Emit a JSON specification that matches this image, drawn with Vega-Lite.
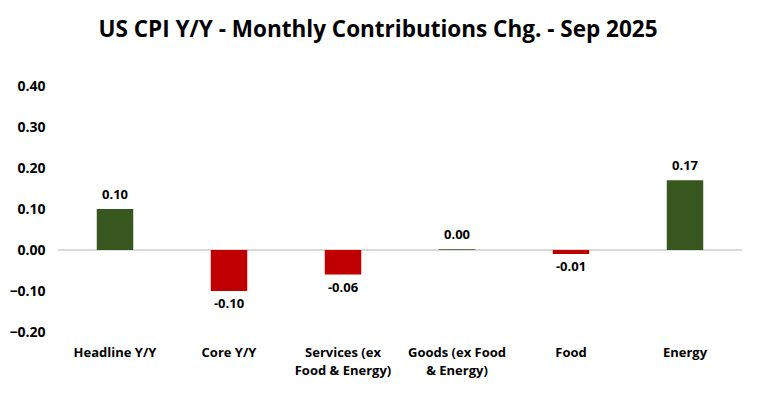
{
  "$schema": "https://vega.github.io/schema/vega-lite/v6.json",
  "autosize": {"type": "none"},
  "width": 684,
  "height": 246,
  "padding": {"left": 58, "top": 86, "right": 15, "bottom": 65},
  "background": "white",
  "config": {"view": {"stroke": null}, "font": "Open Sans"},
  "title": {
    "text": "US CPI Y/Y - Monthly Contributions Chg. - Sep 2025",
    "fontSize": 22.5,
    "fontWeight": "bold",
    "font": "Open Sans",
    "color": "black",
    "anchor": "middle",
    "dx": -22,
    "offset": 38
  },
  "data": {
    "values": [
      {"category": "Headline Y/Y", "value": 0.10, "label": "0.10", "sign": "pos"},
      {"category": "Core Y/Y", "value": -0.10, "label": "-0.10", "sign": "neg"},
      {"category": "Services (ex Food & Energy)", "value": -0.06, "label": "-0.06", "sign": "neg"},
      {"category": "Goods (ex Food & Energy)", "value": 0.002, "label": "0.00", "sign": "pos"},
      {"category": "Food", "value": -0.01, "label": "-0.01", "sign": "neg"},
      {"category": "Energy", "value": 0.17, "label": "0.17", "sign": "pos"}
    ]
  },
  "encoding": {
    "x": {
      "field": "category",
      "type": "nominal",
      "sort": null,
      "scale": {"paddingInner": 0.68, "paddingOuter": 0.34},
      "axis": {
        "title": null,
        "orient": "bottom",
        "domain": false,
        "ticks": false,
        "labelAngle": 0,
        "labelFontSize": 13,
        "labelFontWeight": "bold",
        "labelColor": "black",
        "labelPadding": 14,
        "labelLineHeight": 18,
        "labelExpr": "datum.label == 'Services (ex Food & Energy)' ? ['Services (ex', 'Food & Energy)'] : datum.label == 'Goods (ex Food & Energy)' ? ['Goods (ex Food', '& Energy)'] : datum.label"
      }
    }
  },
  "layer": [
    {
      "mark": {"type": "rule", "color": "#d9d9d9", "strokeWidth": 1},
      "encoding": {"y": {"datum": 0, "type": "quantitative"}, "x": null}
    },
    {
      "mark": {"type": "bar"},
      "encoding": {
        "y": {
          "field": "value",
          "type": "quantitative",
          "scale": {"domain": [-0.2, 0.4], "nice": false},
          "axis": {
            "title": null,
            "values": [-0.2, -0.1, 0, 0.1, 0.2, 0.3, 0.4],
            "format": ".2f",
            "domain": false,
            "ticks": false,
            "grid": false,
            "labelFontSize": 14,
            "labelFontWeight": "bold",
            "labelColor": "black",
            "labelPadding": 13
          }
        },
        "y2": {"datum": 0},
        "color": {
          "field": "sign",
          "type": "nominal",
          "scale": {"domain": ["pos", "neg"], "range": ["#38571f", "#c00000"]},
          "legend": null
        }
      }
    },
    {
      "transform": [{"filter": "datum.sign == 'pos'"}],
      "mark": {"type": "text", "baseline": "bottom", "dy": -7, "fontSize": 13, "fontWeight": "bold", "color": "black"},
      "encoding": {
        "y": {"field": "value", "type": "quantitative"},
        "text": {"field": "label"}
      }
    },
    {
      "transform": [{"filter": "datum.sign == 'neg'"}],
      "mark": {"type": "text", "baseline": "top", "dy": 7, "fontSize": 13, "fontWeight": "bold", "color": "black"},
      "encoding": {
        "y": {"field": "value", "type": "quantitative"},
        "text": {"field": "label"}
      }
    }
  ]
}
